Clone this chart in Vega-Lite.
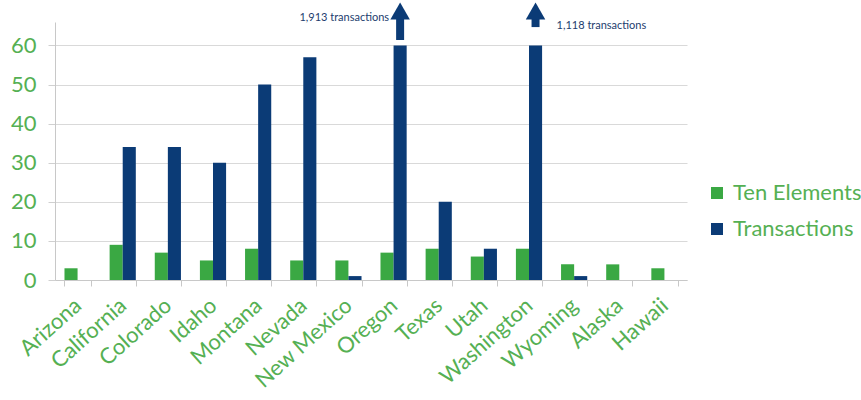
{
  "$schema": "https://vega.github.io/schema/vega-lite/v6.json",
  "width": 632,
  "height": 258,
  "autosize": {"type": "none"},
  "padding": {"left": 55, "top": 22, "right": 174, "bottom": 120},
  "background": "white",
  "config": {"view": {"stroke": null}, "font": "Lato"},
  "datasets": {
    "bars": [
      {"state": "Arizona", "series": "Ten Elements", "value": 3},
      {"state": "Arizona", "series": "Transactions", "value": 0},
      {"state": "California", "series": "Ten Elements", "value": 9},
      {"state": "California", "series": "Transactions", "value": 34},
      {"state": "Colorado", "series": "Ten Elements", "value": 7},
      {"state": "Colorado", "series": "Transactions", "value": 34},
      {"state": "Idaho", "series": "Ten Elements", "value": 5},
      {"state": "Idaho", "series": "Transactions", "value": 30},
      {"state": "Montana", "series": "Ten Elements", "value": 8},
      {"state": "Montana", "series": "Transactions", "value": 50},
      {"state": "Nevada", "series": "Ten Elements", "value": 5},
      {"state": "Nevada", "series": "Transactions", "value": 57},
      {"state": "New Mexico", "series": "Ten Elements", "value": 5},
      {"state": "New Mexico", "series": "Transactions", "value": 1},
      {"state": "Oregon", "series": "Ten Elements", "value": 7},
      {"state": "Oregon", "series": "Transactions", "value": 60},
      {"state": "Texas", "series": "Ten Elements", "value": 8},
      {"state": "Texas", "series": "Transactions", "value": 20},
      {"state": "Utah", "series": "Ten Elements", "value": 6},
      {"state": "Utah", "series": "Transactions", "value": 8},
      {"state": "Washington", "series": "Ten Elements", "value": 8},
      {"state": "Washington", "series": "Transactions", "value": 60},
      {"state": "Wyoming", "series": "Ten Elements", "value": 4},
      {"state": "Wyoming", "series": "Transactions", "value": 1},
      {"state": "Alaska", "series": "Ten Elements", "value": 4},
      {"state": "Alaska", "series": "Transactions", "value": 0},
      {"state": "Hawaii", "series": "Ten Elements", "value": 3},
      {"state": "Hawaii", "series": "Transactions", "value": 0}
    ],
    "arrows": [
      {"state": "Oregon", "series": "Transactions", "base": 61.4, "top": 67.6, "head": 68.8},
      {"state": "Washington", "series": "Transactions", "base": 64.7, "top": 67.6, "head": 68.8}
    ],
    "notesLeft": [
      {"state": "Oregon", "series": "Transactions", "pos": 66.9, "note": "1,913 transactions"}
    ],
    "notesRight": [
      {"state": "Washington", "series": "Transactions", "pos": 64.9, "note": "1,118 transactions"}
    ]
  },
  "layer": [
    {
      "data": {"name": "bars"},
      "mark": {"type": "bar"},
      "encoding": {
        "x": {
          "field": "state", "type": "nominal",
          "scale": {"domain": ["Arizona","California","Colorado","Idaho","Montana","Nevada","New Mexico","Oregon","Texas","Utah","Washington","Wyoming","Alaska","Hawaii"], "paddingInner": 0.42, "paddingOuter": 0.21},
          "axis": {
            "title": null, "labelAngle": -42, "labelAlign": "right", "labelBaseline": "middle",
            "labelFontSize": 22, "labelColor": "#55b053", "labelPadding": 16,
            "ticks": true, "tickBand": "extent", "tickSize": 6, "tickColor": "#c8c8c8",
            "domainColor": "#c8c8c8", "grid": false
          }
        },
        "xOffset": {"field": "series", "type": "nominal", "scale": {"domain": ["Ten Elements", "Transactions"]}},
        "y": {
          "field": "value", "type": "quantitative",
          "scale": {"domain": [0, 66], "nice": false},
          "axis": {
            "title": null, "values": [0, 10, 20, 30, 40, 50, 60],
            "labelFontSize": 22, "labelColor": "#55b053", "labelPadding": 12,
            "tickSize": 7, "tickColor": "#d0d0d0", "gridColor": "#d9d9d9",
            "domainColor": "#c8c8c8"
          }
        },
        "color": {
          "field": "series", "type": "nominal",
          "scale": {"domain": ["Ten Elements", "Transactions"], "range": ["#3aa843", "#0b3b76"]},
          "legend": {
            "title": null, "orient": "none", "legendX": 651, "legendY": 160,
            "symbolType": "square", "symbolSize": 144, "symbolStrokeWidth": 0,
            "labelFontSize": 22, "labelColor": "#55b053", "labelOffset": 5, "rowPadding": 14
          }
        }
      }
    },
    {
      "data": {"name": "arrows"},
      "mark": {"type": "rule", "strokeWidth": 8, "color": "#0b3b76"},
      "encoding": {
        "x": {"field": "state", "type": "nominal"},
        "xOffset": {"field": "series", "type": "nominal"},
        "y": {"field": "base", "type": "quantitative"},
        "y2": {"field": "top"}
      }
    },
    {
      "data": {"name": "arrows"},
      "mark": {"type": "point", "shape": "triangle-up", "filled": true, "opacity": 1, "size": 380, "color": "#0b3b76"},
      "encoding": {
        "x": {"field": "state", "type": "nominal"},
        "xOffset": {"field": "series", "type": "nominal"},
        "y": {"field": "head", "type": "quantitative"}
      }
    },
    {
      "data": {"name": "notesLeft"},
      "mark": {"type": "text", "align": "right", "baseline": "middle", "dx": -11, "fontSize": 11, "color": "#1d3d6e"},
      "encoding": {
        "x": {"field": "state", "type": "nominal"},
        "xOffset": {"field": "series", "type": "nominal"},
        "y": {"field": "pos", "type": "quantitative"},
        "text": {"field": "note"}
      }
    },
    {
      "data": {"name": "notesRight"},
      "mark": {"type": "text", "align": "left", "baseline": "middle", "dx": 21, "fontSize": 11, "color": "#1d3d6e"},
      "encoding": {
        "x": {"field": "state", "type": "nominal"},
        "xOffset": {"field": "series", "type": "nominal"},
        "y": {"field": "pos", "type": "quantitative"},
        "text": {"field": "note"}
      }
    }
  ]
}
